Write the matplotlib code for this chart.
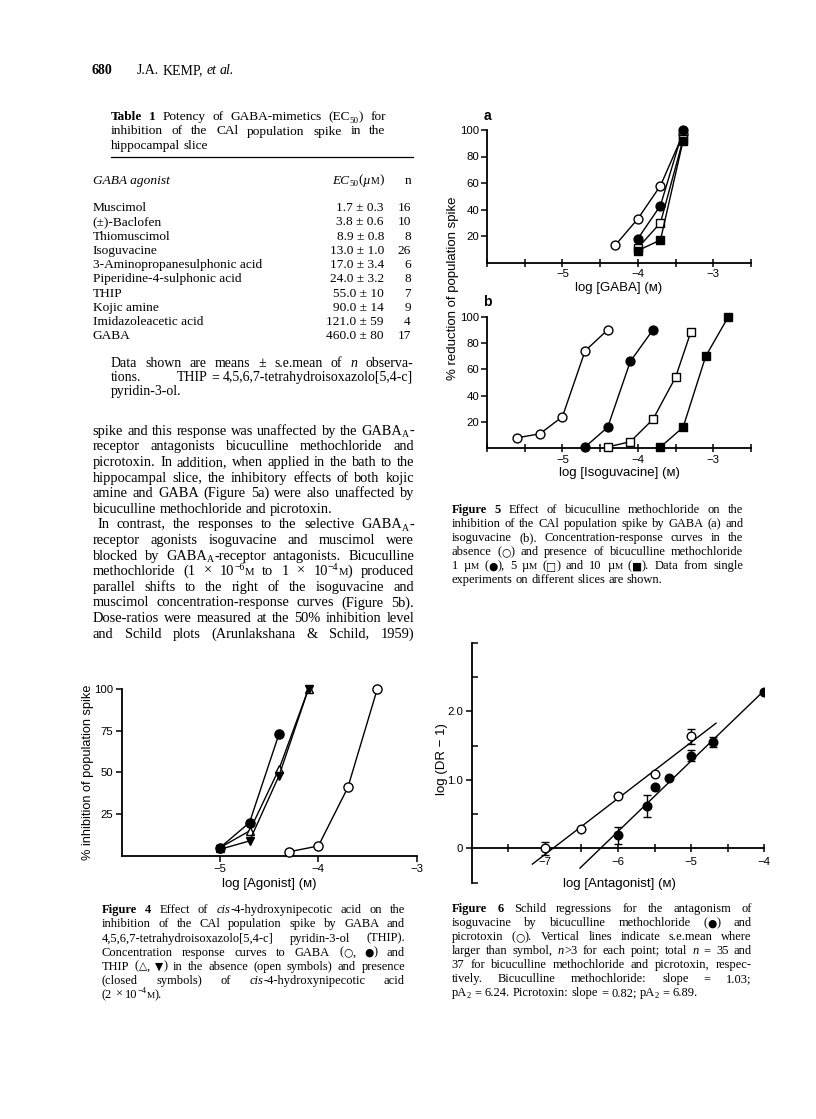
import re
import matplotlib
matplotlib.use("Agg")
import matplotlib.pyplot as plt
from matplotlib.ticker import FixedLocator

plt.rcParams.update({"axes.unicode_minus": True})

SERIF = "Liberation Serif"
SANS = ["Liberation Sans", "DejaVu Sans"]
INK = "#000000"

# ---------------- data ----------------
# Table 1
agonists = ["Muscimol", "(±)-Baclofen", "Thiomuscimol", "Isoguvacine",
            "3-Aminopropanesulphonic acid", "Piperidine-4-sulphonic acid",
            "THIP", "Kojic amine", "Imidazoleacetic acid", "GABA"]
ec50 = [1.7, 3.8, 8.9, 13.0, 17.0, 24.0, 55.0, 90.0, 121.0, 460.0]
ec50_sem = [0.3, 0.6, 0.8, 1.0, 3.4, 3.2, 10, 14, 59, 80]
n_obs = [16, 10, 8, 26, 6, 8, 7, 9, 4, 17]

# Figure 5a: log[GABA] vs % reduction
f5a_ctrl_x = [-4.3, -4.0, -3.7, -3.4]
f5a_ctrl_y = [13, 33, 58, 97]
f5a_b1_x = [-4.0, -3.7, -3.4]
f5a_b1_y = [18, 43, 100]
f5a_b5_x = [-4.0, -3.7, -3.4]
f5a_b5_y = [11, 30, 93]
f5a_b10_x = [-4.0, -3.7, -3.4]
f5a_b10_y = [9, 17, 92]

# Figure 5b: log[isoguvacine] vs % reduction
f5b_ctrl_x = [-5.6, -5.3, -5.0, -4.7, -4.4]
f5b_ctrl_y = [8, 11, 24, 74, 90]
f5b_b1_x = [-4.7, -4.4, -4.1, -3.8]
f5b_b1_y = [1, 16, 66, 90]
f5b_b5_x = [-4.4, -4.1, -3.8, -3.5, -3.3]
f5b_b5_y = [1, 5, 22, 54, 88]
f5b_b10_x = [-3.7, -3.4, -3.1, -2.8]
f5b_b10_y = [1, 16, 70, 100]

# Figure 4: log[agonist] vs % inhibition
f4_gaba_x = [-4.3, -4.0, -3.7, -3.4]
f4_gaba_y = [2.5, 6, 41, 100]
f4_gaba_cis_x = [-5.0, -4.7, -4.4]
f4_gaba_cis_y = [5, 20, 73]
f4_thip_x = [-5.0, -4.7, -4.4, -4.1]
f4_thip_y = [5, 15, 52, 100]
f4_thip_cis_x = [-5.0, -4.7, -4.4, -4.1]
f4_thip_cis_y = [4, 9, 48, 100]

# Figure 6: Schild plots
f6_pic_x = [-7.0, -6.5, -6.0, -5.5, -5.0]
f6_pic_y = [0.0, 0.29, 0.76, 1.08, 1.64]
f6_pic_err = [0.09, 0, 0, 0, 0.11]
f6_bic_x = [-6.0, -5.6, -5.5, -5.3, -5.0, -4.7, -4.0]
f6_bic_y = [0.19, 0.62, 0.89, 1.03, 1.35, 1.55, 2.29]
f6_bic_err = [0.12, 0.16, 0, 0, 0.08, 0.07, 0]
bic_slope, bic_pa2 = 1.03, 6.24
pic_slope, pic_pa2 = 0.82, 6.89
bic_fit_range = [-6.52, -3.90]
pic_fit_range = [-7.17, -4.66]

# ---------------- figure ----------------
W, H = 816, 1119
fig = plt.figure(figsize=(W / 100, H / 100), dpi=100)
fig.patch.set_facecolor("white")
renderer = fig.canvas.get_renderer()

SEG_RE = re.compile(r"\{(sc|sym|b|i|sup|sub):([^}]*)\}")


def parse_word(word):
    out, pos = [], 0
    for m in SEG_RE.finditer(word):
        if m.start() > pos:
            out.append(("n", word[pos:m.start()]))
        out.append((m.group(1), m.group(2)))
        pos = m.end()
    if pos < len(word):
        out.append(("n", word[pos:]))
    return out


def make_word(word, size, weight="normal", style="normal"):
    em = size * 100 / 72
    objs = []
    for kind, txt in parse_word(word):
        kw = dict(fontsize=size, family=SERIF, fontweight=weight,
                  fontstyle=style, va="baseline", ha="left", color=INK)
        rise = 0.0
        if kind == "sc":
            kw["fontsize"] = size * 0.74
        elif kind == "sym":
            kw["family"] = "DejaVu Sans"
            kw["fontsize"] = size * 0.85
        elif kind == "b":
            kw["fontweight"] = "bold"
        elif kind == "i":
            kw["fontstyle"] = "italic"
        elif kind == "sup":
            kw["fontsize"] = size * 0.68
            rise = 0.36 * em
        elif kind == "sub":
            kw["fontsize"] = size * 0.68
            rise = -0.16 * em
        t = fig.text(0, 0, txt, **kw)
        w = t.get_window_extent(renderer).width
        objs.append((t, w, rise))
    return objs


def place_line(text, x0, x1, yc, size, justify=True, align="left", **kw):
    words = [make_word(w, size, **kw) for w in text.split()]
    widths = [sum(o[1] for o in wd) for wd in words]
    if justify and len(words) > 1:
        gap = (x1 - x0 - sum(widths)) / (len(words) - 1)
    else:
        gap = size * 0.25 * 100 / 72
    total = sum(widths) + gap * (len(words) - 1)
    yb = yc + 0.33 * size * 100 / 72
    x = x0 if (justify or align == "left") else x1 - total
    for wd, ww in zip(words, widths):
        xx = x
        for t, w, rise in wd:
            t.set_position((xx / W, 1 - (yb - rise) / H))
            xx += w
        x += ww + gap


def para(lines, x0, x1, y0, dy, size, unjust=(), indent=None):
    indent = indent or {}
    for i, ln in enumerate(lines):
        place_line(ln, x0 + indent.get(i, 0), x1, y0 + i * dy, size,
                   justify=(i not in unjust))


def ftext(x, y, s, **kw):
    kw.setdefault("color", INK)
    return fig.text(x / W, 1 - y / H, s, **kw)


# ---------- header ----------
ftext(91.7, 73.5, "680", family=SERIF, fontsize=10, fontweight="bold",
      va="baseline")
place_line("J.A. KEMP, {i:et} {i:al.}", 137, 300, 69.5, 10, justify=False)

# ---------- table ----------
TS = 9.6
para(["{b:Table} {b:1}  Potency of GABA-mimetics (EC{sub:50}) for",
      "inhibition of the CAl population spike in the",
      "hippocampal slice"], 110.7, 385.7, 116, 14.1, TS, unjust=(2,))
fig.add_artist(plt.Line2D([110.7 / W, 413 / W], [1 - 157.3 / H] * 2,
                          color=INK, lw=0.9))
hy = 179.3 + 0.33 * TS * 100 / 72
ftext(92.7, hy, "GABA agonist", family=SERIF, fontsize=TS, fontstyle="italic",
      va="baseline")
place_line("{i:EC}{sub:50}({i:µ}{sc:M})", 331, 384, 179.3, TS,
           justify=False, align="right")
ftext(411, hy, "n", family=SERIF, fontsize=TS, va="baseline", ha="right")
for i, (name, v, s, n) in enumerate(zip(agonists, ec50, ec50_sem, n_obs)):
    yb = 206.7 + i * 14.25 + 0.33 * TS * 100 / 72
    ftext(92.7, yb, name, family=SERIF, fontsize=TS, va="baseline")
    sem_s = f"{s:.1f}" if s < 10 else f"{s:.0f}"
    ftext(384, yb, f"{v:.1f} ± {sem_s}", family=SERIF, fontsize=TS,
          va="baseline", ha="right")
    ftext(411, yb, f"{n}", family=SERIF, fontsize=TS, va="baseline", ha="right")

FS = 10.0
place_line("Data shown are means ± s.e.mean of {i:n} observa-",
           110.7, 413, 362.7, FS)
place_line("tions.", 110.7, 413, 376.7, FS, justify=False)
place_line("THIP = 4,5,6,7-tetrahydroisoxazolo[5,4-c]", 110.7, 413, 376.7,
           FS, justify=False, align="right")
place_line("pyridin-3-ol.", 110.7, 413, 390.7, FS, justify=False)

# ---------- body text ----------
body = [
    "spike and this response was unaffected by the GABA{sub:A}-",
    "receptor antagonists bicuculline methochloride and",
    "picrotoxin. In addition, when applied in the bath to the",
    "hippocampal slice, the inhibitory effects of both kojic",
    "amine and GABA (Figure 5a) were also unaffected by",
    "bicuculline methochloride and picrotoxin.",
    "In contrast, the responses to the selective GABA{sub:A}-",
    "receptor agonists isoguvacine and muscimol were",
    "blocked by GABA{sub:A}-receptor antagonists. Bicuculline",
    "methochloride (1 × 10{sup:−6}{sc:M} to 1 × 10{sup:−4}{sc:M}) produced",
    "parallel shifts to the right of the isoguvacine and",
    "muscimol concentration-response curves (Figure 5b).",
    "Dose-ratios were measured at the 50% inhibition level",
    "and Schild plots (Arunlakshana & Schild, 1959)",
]
para(body, 92.7, 414, 430, 15.6, 10.4, unjust=(5,), indent={6: 5})

# ---------- captions ----------
cap5 = [
    "{b:Figure} {b:5}  Effect of bicuculline methochloride on the",
    "inhibition of the CAl population spike by GABA (a) and",
    "isoguvacine (b). Concentration-response curves in the",
    "absence ({sym:○}) and presence of bicuculline methochloride",
    "1 µ{sc:M} ({sym:●}), 5 µ{sc:M} ({sym:□}) and 10 µ{sc:M} ({sym:■}). Data from single",
    "experiments on different slices are shown.",
]
para(cap5, 451.7, 743.3, 509.3, 13.95, 9.0, unjust=(5,))

cap4 = [
    "{b:Figure} {b:4}  Effect of {i:cis}-4-hydroxynipecotic acid on the",
    "inhibition of the CAl population spike by GABA and",
    "4,5,6,7-tetrahydroisoxazolo[5,4-c] pyridin-3-ol (THIP).",
    "Concentration response curves to GABA ({sym:○}, {sym:●}) and",
    "THIP ({sym:△}, {sym:▼}) in the absence (open symbols) and presence",
    "(closed symbols) of {i:cis}-4-hydroxynipecotic acid",
    "(2 × 10{sup:−4}{sc:M}).",
]
para(cap4, 101.7, 405, 909.3, 14.07, 9.0, unjust=(6,))

cap6 = [
    "{b:Figure} {b:6}  Schild regressions for the antagonism of",
    "isoguvacine by bicuculline methochloride ({sym:●}) and",
    "picrotoxin ({sym:○}). Vertical lines indicate s.e.mean where",
    "larger than symbol, {i:n}>3 for each point; total {i:n} = 35 and",
    "37 for bicuculline methochloride and picrotoxin, respec-",
    "tively. Bicuculline methochloride: slope = 1.03;",
    "pA{sub:2} = 6.24. Picrotoxin: slope = 0.82; pA{sub:2} = 6.89.",
]
para(cap6, 451.7, 751.7, 908.3, 13.95, 9.0, unjust=(6,))


# ---------- axes helpers ----------
def add_ax(left, right, top, bottom):
    return fig.add_axes([left / W, 1 - bottom / H, (right - left) / W,
                         (bottom - top) / H])


def style_ax(ax):
    for s in ("top", "right"):
        ax.spines[s].set_visible(False)
    for s in ("left", "bottom"):
        ax.spines[s].set_linewidth(1.3)
        ax.spines[s].set_color(INK)
    ax.set_facecolor("none")
    ax.tick_params(colors=INK, labelsize=8.2, width=1.1)
    for lab in ax.get_xticklabels() + ax.get_yticklabels():
        lab.set_family(SANS)


MK = dict(lw=1.0, color=INK, mec=INK, mew=1.0, clip_on=False, zorder=3)


def openm(ax, x, y, m, ms):
    ax.plot(x, y, marker=m, ms=ms, mfc="white", **MK)


def filledm(ax, x, y, m, ms):
    ax.plot(x, y, marker=m, ms=ms, mfc=INK, **MK)


def minus(v):
    return f"{v:g}".replace("-", "\u2212")


# ---------- Figure 5 (a, b) ----------
for (top, bot, series, xl, tag, tagy) in [
        (130, 262.5, [(f5a_ctrl_x, f5a_ctrl_y, "o", False),
                      (f5a_b1_x, f5a_b1_y, "o", True),
                      (f5a_b5_x, f5a_b5_y, "s", False),
                      (f5a_b10_x, f5a_b10_y, "s", True)],
         "log [GABA] (ᴍ)", "a", 116),
        (316.7, 448.3, [(f5b_ctrl_x, f5b_ctrl_y, "o", False),
                        (f5b_b1_x, f5b_b1_y, "o", True),
                        (f5b_b5_x, f5b_b5_y, "s", False),
                        (f5b_b10_x, f5b_b10_y, "s", True)],
         "log [Isoguvacine] (ᴍ)", "b", 302)]:
    ax = add_ax(487, 751, top, bot)
    ax.set_xlim(-6, -2.5)
    ax.set_ylim(0, 100)
    for xs, ys, m, filled in series:
        ms = 6.4 if m == "o" else 5.8
        (filledm if filled else openm)(ax, xs, ys, m, ms)
    ax.xaxis.set_major_locator(FixedLocator([-5, -4, -3]))
    ax.xaxis.set_minor_locator(FixedLocator([-6, -5.5, -4.5, -3.5, -2.5]))
    ax.set_xticklabels([minus(v) for v in [-5, -4, -3]])
    ax.yaxis.set_major_locator(FixedLocator([20, 40, 60, 80, 100]))
    ax.set_yticklabels(["20", "40", "60", "80", "100"])
    style_ax(ax)
    ax.tick_params(axis="x", which="both", direction="inout", length=6,
                   pad=2)
    ax.tick_params(axis="y", length=4, pad=1.5)
    ax.tick_params(axis="x", which="minor", width=1.1)
    ax.set_xlabel(xl, family=SANS, fontsize=9.5, labelpad=1.5, color=INK)
    ftext(487, tagy, tag, family=SANS, fontsize=10, fontweight="bold",
          ha="center", va="center")

ftext(453, 288, "% reduction of population spike", family=SANS, fontsize=9.5,
      rotation=90, ha="center", va="center")

# ---------- Figure 4 ----------
ax4 = add_ax(121.7, 416.7, 688.7, 856)
ax4.set_xlim(-6, -3)
ax4.set_ylim(0, 100)
openm(ax4, f4_gaba_x, f4_gaba_y, "o", 6.6)
openm(ax4, f4_thip_x, f4_thip_y, "^", 6.2)
filledm(ax4, f4_thip_cis_x, f4_thip_cis_y, "v", 6.2)
filledm(ax4, f4_gaba_cis_x, f4_gaba_cis_y, "o", 6.6)
ax4.xaxis.set_major_locator(FixedLocator([-5, -4, -3]))
ax4.set_xticklabels([minus(v) for v in [-5, -4, -3]])
ax4.yaxis.set_major_locator(FixedLocator([25, 50, 75, 100]))
ax4.set_yticklabels(["25", "50", "75", "100"])
style_ax(ax4)
ax4.tick_params(length=4, pad=2)
ax4.set_xlabel("log [Agonist] (ᴍ)", family=SANS, fontsize=9.5, labelpad=3,
               color=INK)
ftext(88.5, 772, "% inhibition of population spike", family=SANS,
      fontsize=9.2, rotation=90, ha="center", va="center")

# ---------- Figure 6 ----------
ax6 = add_ax(471.7, 764.3, 643, 882.6)
ax6.set_xlim(-8, -4)
ax6.set_ylim(-0.5, 3.0)
for slope, pa2, rng in [(bic_slope, bic_pa2, bic_fit_range),
                        (pic_slope, pic_pa2, pic_fit_range)]:
    xs = list(rng)
    ax6.plot(xs, [slope * (x + pa2) for x in xs], color=INK, lw=1.0,
             zorder=2)
ax6.errorbar(f6_pic_x, f6_pic_y, yerr=f6_pic_err, fmt="o", ms=6.2,
             mfc="white", mec=INK, mew=1.0, ecolor=INK,
             elinewidth=1.0, capsize=3, capthick=1.0, zorder=3)
ax6.errorbar(f6_bic_x, f6_bic_y, yerr=f6_bic_err, fmt="o", ms=6.2,
             mfc=INK, mec=INK, mew=1.0, ecolor=INK,
             elinewidth=1.0, capsize=3, capthick=1.0, zorder=3)
ax6.spines["bottom"].set_position(("data", 0))
ax6.xaxis.set_major_locator(FixedLocator([-7, -6, -5, -4]))
ax6.xaxis.set_minor_locator(FixedLocator([-7.5, -6.5, -5.5, -4.5]))
ax6.set_xticklabels([minus(v) for v in [-7, -6, -5, -4]])
ax6.yaxis.set_major_locator(FixedLocator([0, 1.0, 2.0]))
ax6.yaxis.set_minor_locator(FixedLocator([-0.5, 0.5, 1.5, 2.5, 3.0]))
ax6.set_yticklabels(["0", "1.0", "2.0"])
style_ax(ax6)
ax6.tick_params(axis="x", which="both", direction="inout", length=6, pad=3)
ax6.tick_params(axis="x", which="minor", width=1.1)
ax6.tick_params(axis="y", which="major", length=4, pad=2)
ax6.tick_params(axis="y", which="minor", direction="in", length=4, width=1.1)
ftext(619, 884, "log [Antagonist] (ᴍ)", family=SANS, fontsize=9.5,
      ha="center", va="center")
ftext(442, 759, "log (DR \u2212 1)", family=SANS, fontsize=9.5, rotation=90,
      ha="center", va="center")

fig.savefig("out.png", dpi=100, facecolor="white")
